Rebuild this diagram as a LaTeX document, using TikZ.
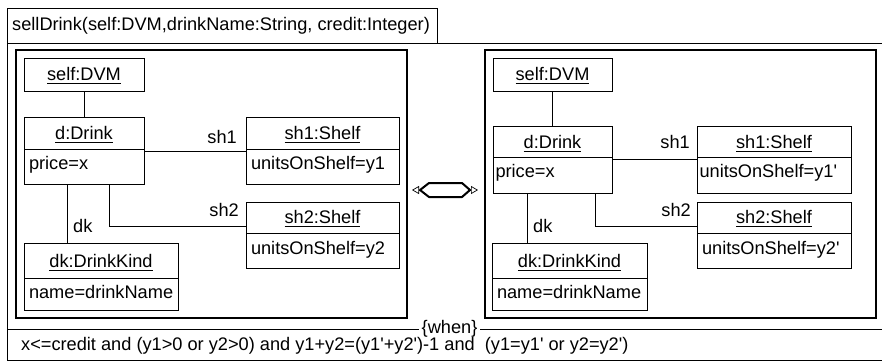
\documentclass[tikz,border=0pt]{standalone}
\usepackage{fontspec}
\setmainfont{Liberation Sans}[Ligatures=TeXOff]
\usetikzlibrary{arrows.meta}
\newsavebox\objbox
\newcommand{\objname}[1]{\sbox\objbox{#1}\rlap{\rule[-3.4pt]{\wd\objbox}{0.9pt}}\usebox\objbox}
\begin{document}
\begin{tikzpicture}[x=1pt,y=-1pt,
  font=\fontsize{18.2pt}{22pt}\selectfont,
  box/.style={draw, line width=1pt, inner sep=0pt, outer sep=0pt, anchor=north west},
  hdr/.style n args={3}{box, minimum width=#1, text height=#2, text depth=#3},
  attr/.style n args={4}{box, inner xsep=#4, text width=#1-2*#4, align=left, text height=#2, text depth=#3},
  frame/.style={line width=1pt},
  inframe/.style={line width=1.3pt},
  lbl/.style={inner sep=0pt}]
\clip (0,0) rectangle (882,360);
% outer frame
\draw[frame] (7,365) -- (7,8) -- (437,8) -- (437,43);
\draw[frame] (7,43) -- (890,43);
\draw[frame] (7,360) -- (890,360);
\node[anchor=base west, inner sep=0pt] (title) at (12,30) {sellDrink(self:DVM,drinkName:String, credit:Integer)};
% inner frames
\draw[inframe] (16,50) rectangle (407,318);
\draw[inframe] (485,50) rectangle (876,318);
% separator
\draw[frame] (7,329) -- (890,329);
\node[anchor=base, fill=white, inner xsep=3pt, inner ysep=0pt] (when) at (449.5,333.5) {\{when\}};
\node[anchor=base west, inner sep=0pt] (cond) at (21,350) {x<=credit and (y1>0 or y2>0) and y1+y2=(y1'+y2')-1 and\ \ (y1=y1' or y2=y2')};

% ---- left side ----
\node[hdr={120pt}{22pt}{11pt}] (ldvm) at (24,58) {\objname{self:DVM}};
\node[hdr={120pt}{22pt}{10pt}] (ld) at (24,117) {\objname{d:Drink}};
\node[attr={120pt}{20pt}{15pt}{5pt}] (ldA) at (24,149) {price=x};
\node[hdr={153pt}{22pt}{10pt}] (lsh1) at (246,117) {\objname{sh1:Shelf}};
\node[attr={153pt}{20pt}{15pt}{5pt}] (lsh1A) at (246,149) {unitsOnShelf=y1};
\node[hdr={153pt}{21pt}{10pt}] (lsh2) at (246,202) {\objname{sh2:Shelf}};
\node[attr={153pt}{21pt}{14pt}{5pt}] (lsh2A) at (246,233) {unitsOnShelf=y2};
\node[hdr={154pt}{24pt}{11pt}] (ldk) at (24,243) {\objname{dk:DrinkKind}};
\node[attr={154pt}{20pt}{12pt}{5pt}] (ldkA) at (24,278) {name=drinkName};

\draw[line width=1pt] (ldvm.south) -- (ld.north);
\draw[line width=1pt] ([yshift=-2pt]ldA.north east) -- ([yshift=-2pt]lsh1A.north west);
\draw[line width=1pt] (ldA.south -| 109,0) |- (lsh2.west |- 0,226);
\draw[line width=1pt] (ldA.south -| 67,0) -- (ldk.north -| 67,0);
\node[lbl, anchor=base east] (lsh1l) at (237,143) {sh1};
\node[lbl, anchor=base east] (lsh2l) at (239,216) {sh2};
\node[lbl, anchor=base west] (ldkl) at (73,232) {dk};

% ---- right side ----
\node[hdr={119pt}{22pt}{11pt}] (rdvm) at (493,58) {\objname{self:DVM}};
\node[hdr={119pt}{22pt}{9pt}] (rd) at (493,126) {\objname{d:Drink}};
\node[attr={119pt}{20pt}{16pt}{2.5pt}] (rdA) at (493,157) {price=x};
\node[hdr={154pt}{22pt}{9pt}] (rsh1) at (697,126) {\objname{sh1:Shelf}};
\node[attr={154pt}{20pt}{16pt}{2.5pt}] (rsh1A) at (697,157) {unitsOnShelf=y1'};
\node[hdr={154pt}{21pt}{10pt}] (rsh2) at (697,202) {\objname{sh2:Shelf}};
\node[attr={154pt}{21pt}{14pt}{5pt}] (rsh2A) at (697,233) {unitsOnShelf=y2'};
\node[hdr={155pt}{24pt}{11pt}] (rdk) at (492,243) {\objname{dk:DrinkKind}};
\node[attr={155pt}{20pt}{12pt}{5pt}] (rdkA) at (492,278) {name=drinkName};

\draw[line width=1pt] (rdvm.south) -- (rd.north);
\draw[line width=1pt] ([yshift=-2pt]rdA.north east) -- ([yshift=-2pt]rsh1A.north west);
\draw[line width=1pt] (rdA.south -| 595,0) |- (rsh2.west |- 0,226);
\draw[line width=1pt] (rdA.south -| 527,0) -- (rdk.north -| 527,0);
\node[lbl, anchor=base east] (rsh1l) at (690,148) {sh1};
\node[lbl, anchor=base east] (rsh2l) at (691,216) {sh2};
\node[lbl, anchor=base west] (rdkl) at (533,232) {dk};

% ---- transformation symbol ----
\coordinate (hl) at (420,190);
\coordinate (htl) at (429,183);
\coordinate (htr) at (462,183);
\coordinate (hr) at (470,190);
\coordinate (hbr) at (462,197);
\coordinate (hbl) at (429,197);
\coordinate (al) at (412,190);
\coordinate (ar) at (478,190);
\draw[line width=2pt, line join=round] (hl) -- (htl) -- (htr) -- (hr) -- (hbr) -- (hbl) -- cycle;
\draw[line width=0.7pt, -{Triangle[open, length=7pt, width=8pt]}] (hl) -- (al);
\draw[line width=0.7pt, -{Triangle[open, length=7pt, width=8pt]}] (hr) -- (ar);
\end{tikzpicture}
\end{document}
